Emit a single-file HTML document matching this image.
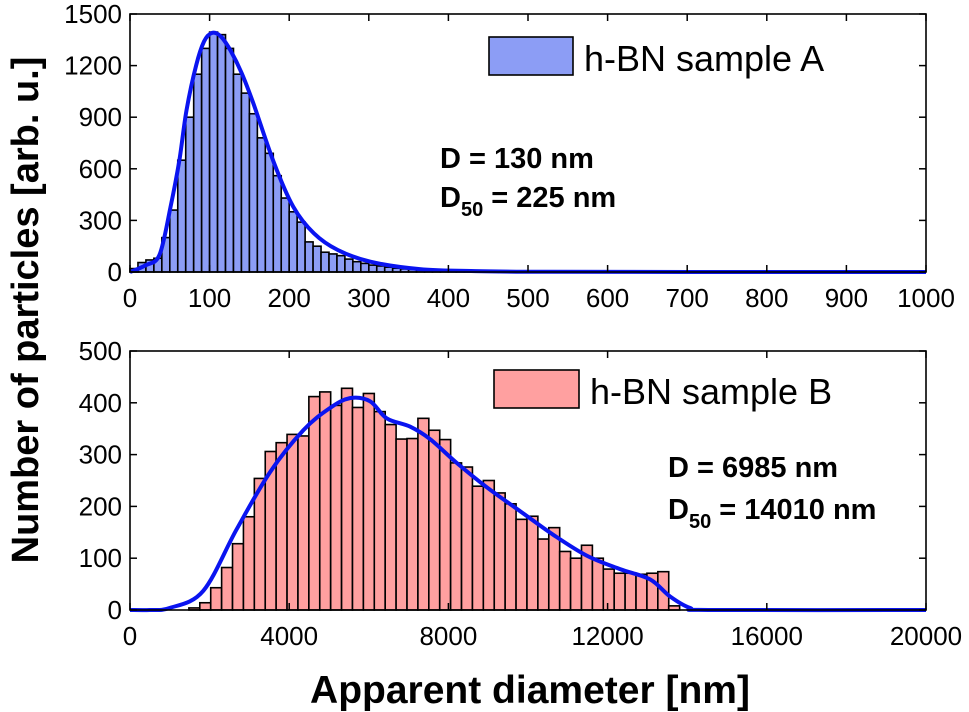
<!DOCTYPE html>
<html><head><meta charset="utf-8">
<style>
body{margin:0;background:#fff;}
svg{display:block;font-family:"Liberation Sans",Arial,sans-serif;}
</style></head>
<body>
<svg id="chart" width="969" height="712"></svg>
<script>
// Top panel data (sample A), bins of 10 nm starting at 0
const topBinStart = 0;
const topBinWidth = 10;
const topCounts = [20,55,70,80,200,360,650,900,1150,1300,1395,1380,1300,1150,1040,920,780,690,560,430,350,290,175,150,115,105,95,75,60,50,40,35,28,22,18,15,12,10,8,6,5,4,3,2,2];
const topCurveX = [0,20,37,51,62,71,83,93,103,114,126,140,155,181,205,231,261,302,364,434,520,700,1000];
const topCurveY = [0,40,100,380,650,940,1200,1340,1390,1370,1290,1160,980,633,380,225,128,60,17,5,1,0,0];
const topXTicks = [0,100,200,300,400,500,600,700,800,900,1000];
const topYTicks = [0,300,600,900,1200,1500];
// Bottom panel data (sample B)
const botBinStart = 1480;
const botBinWidth = 274;
const botCounts = [4,14,43,82,128,180,254,306,323,339,336,412,421,395,428,391,418,383,358,330,331,370,347,329,284,276,239,250,226,205,175,181,137,159,113,100,125,100,79,71,71,69,71,74,8];
const botCurveX = [0,500,1005,1842,2680,3518,4355,5025,5528,6030,6449,7035,7537,8208,8963,9800,10638,11475,12313,13067,13570,14072,14600,20000];
const botCurveY = [0,0,4,37,156,266,347,390,409,403,370,354,330,284,237,191,145,105,79,59,26,4,0,0];
const botXTicks = [0,4000,8000,12000,16000,20000];
const botYTicks = [0,100,200,300,400,500];

const svg = document.getElementById('chart');
const NS = 'http://www.w3.org/2000/svg';
function mk(tag, attrs, parent){const e=document.createElementNS(NS,tag);for(const k in attrs)e.setAttribute(k,attrs[k]);(parent||svg).appendChild(e);return e;}

function smoothPath(pts){
  let d='M'+pts[0][0].toFixed(1)+' '+pts[0][1].toFixed(1);
  for(let i=0;i<pts.length-1;i++){
    const p0=pts[Math.max(0,i-1)],p1=pts[i],p2=pts[i+1],p3=pts[Math.min(pts.length-1,i+2)];
    const c1=[p1[0]+(p2[0]-p0[0])/6,p1[1]+(p2[1]-p0[1])/6];
    const c2=[p2[0]-(p3[0]-p1[0])/6,p2[1]-(p3[1]-p1[1])/6];
    d+='C'+c1[0].toFixed(1)+' '+c1[1].toFixed(1)+' '+c2[0].toFixed(1)+' '+c2[1].toFixed(1)+' '+p2[0].toFixed(1)+' '+p2[1].toFixed(1);
  }
  return d;
}

function panel(o){
  const L=130,R=926,T=o.top,B=o.bottom;
  const sx=v=>L+(v-o.xmin)/(o.xmax-o.xmin)*(R-L);
  const sy=v=>B-(v/o.ymax)*(B-T);
  const g=mk('g',{});
  
  
  o.counts.forEach((c,i)=>{
    const x0=sx(o.binStart+i*o.binWidth), x1=sx(o.binStart+(i+1)*o.binWidth);
    const r=mk('rect',{x:x0,y:sy(c),width:x1-x0,height:B-sy(c),fill:o.fill,stroke:'#000','stroke-width':1.6},g);
    
    
  });
  const pts=o.cx.map((x,i)=>[sx(x),Math.min(B,sy(o.cy[i]))]);
  const p=mk('path',{d:smoothPath(pts),fill:'none',stroke:'#0a14f0','stroke-width':4,'stroke-linejoin':'round'},g);
  
  
  const f=mk('rect',{x:L,y:T,width:R-L,height:B-T,fill:'none',stroke:'#000','stroke-width':1.6},g);
  
  
  o.xt.forEach(v=>{
    const x=sx(v);
    mk('line',{x1:x,x2:x,y1:B,y2:B-7,stroke:'#000','stroke-width':1.5},g);
    mk('line',{x1:x,x2:x,y1:T,y2:T+7,stroke:'#000','stroke-width':1.5},g);
    const t=mk('text',{x:x,y:B+35,'font-size':26,'text-anchor':'middle'},g);
    t.textContent=v;
    
    
  });
  o.yt.forEach(v=>{
    const y=sy(v);
    mk('line',{x1:L,x2:L+7,y1:y,y2:y,stroke:'#000','stroke-width':1.5},g);
    mk('line',{x1:R,x2:R-7,y1:y,y2:y,stroke:'#000','stroke-width':1.5},g);
    const t=mk('text',{x:L-8,y:y+9,'font-size':26,'text-anchor':'end'},g);
    t.textContent=v;
    
    
  });
}
panel({name:'panel-sample-a',top:14,bottom:272,xmin:0,xmax:1000,ymax:1500,counts:topCounts,binStart:topBinStart,binWidth:topBinWidth,fill:'#8c9df5',cx:topCurveX,cy:topCurveY,xt:topXTicks,yt:topYTicks});
panel({name:'panel-sample-b',top:351,bottom:610,xmin:0,xmax:20000,ymax:500,counts:botCounts,binStart:botBinStart,binWidth:botBinWidth,fill:'#ffa0a0',cx:botCurveX,cy:botCurveY,xt:botXTicks,yt:botYTicks});
</script>
<svg width="969" height="712" style="position:absolute;left:0;top:0;font-family:'Liberation Sans',Arial,sans-serif">
  <g>
    <rect x="489" y="37" width="84" height="38" fill="#8c9df5" stroke="#000" stroke-width="1.6"/>
    <text x="584" y="71" font-size="36">h-BN sample A</text>
  </g>
  <g>
    <rect x="494" y="370" width="85" height="38" fill="#ffa0a0" stroke="#000" stroke-width="1.6"/>
    <text x="590" y="404" font-size="36">h-BN sample B</text>
  </g>
  <text x="440" y="168" font-size="29" font-weight="bold">D = 130 nm</text>
  <text x="440" y="207" font-size="29" font-weight="bold">D<tspan font-size="20" dy="9">50</tspan><tspan dy="-9"> = 225 nm</tspan></text>
  <text x="668" y="477" font-size="29" font-weight="bold">D = 6985 nm</text>
  <text x="668" y="519" font-size="29" font-weight="bold">D<tspan font-size="20" dy="9">50</tspan><tspan dy="-9"> = 14010 nm</tspan></text>
  <text x="530" y="703" font-size="39" font-weight="bold" text-anchor="middle">Apparent diameter [nm]</text>
  <text transform="translate(38,310) rotate(-90)" font-size="38" font-weight="bold" text-anchor="middle">Number of particles [arb. u.]</text>
</svg>
</body></html>
